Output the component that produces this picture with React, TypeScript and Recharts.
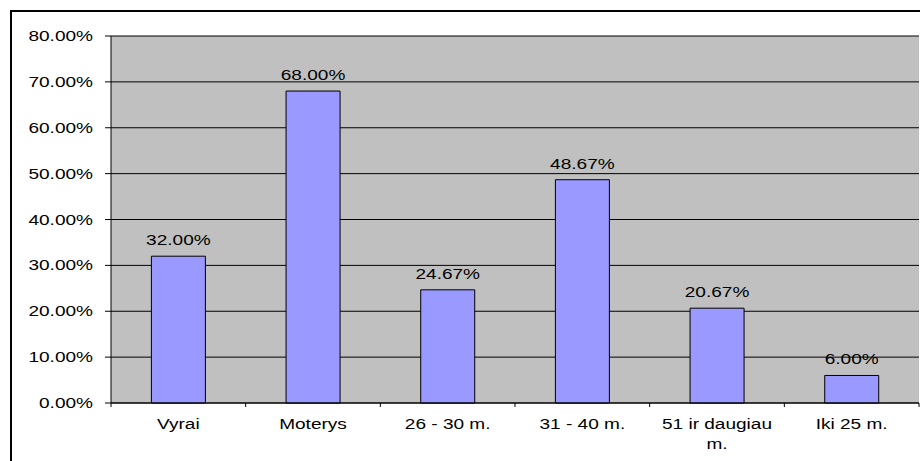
import React from "react";
import { BarChart, Bar, XAxis, YAxis, CartesianGrid, LabelList } from "recharts";

const categories = ["Vyrai", "Moterys", "26 - 30 m.", "31 - 40 m.", "51 ir daugiau\nm.", "Iki 25 m."];
const values = [32.0, 68.0, 24.67, 48.67, 20.67, 6.0];
const yTicks = [0, 10, 20, 30, 40, 50, 60, 70, 80];

const data = categories.map((c, i) => ({ name: c, value: values[i] }));

const W = 920;
const H = 461;
const MARGIN = { top: 36, right: 1, left: 11, bottom: 18 };
const YAXIS_W = 100;
const PLOT_W = W - MARGIN.left - MARGIN.right - YAXIS_W;
const STEP = PLOT_W / categories.length;
const FONT = "'Liberation Sans', Arial, sans-serif";
const SX = 1.36;
const FS = 14;

const fmt = (v: number) => `${v.toFixed(2)}%`;

const YTick = (props: any) => {
  const { x, y, payload } = props;
  return (
    <text
      transform={`translate(${x},${y}) scale(${SX},1)`}
      textAnchor="end"
      dy="0.36em"
      fontSize={FS}
      fontFamily={FONT}
      fill="#000"
    >
      {fmt(payload.value)}
    </text>
  );
};

const XTick = (props: any) => {
  const { x, y, payload, index } = props;
  const lines = String(payload.value).split("\n");
  const left = x - STEP / 2;
  const right = x + STEP / 2;
  return (
    <g>
      <line x1={left} y1={y} x2={left} y2={y + 4} stroke="#000" />
      {index === categories.length - 1 && (
        <line x1={right} y1={y} x2={right} y2={y + 4} stroke="#000" />
      )}
      {lines.map((l, i) => (
        <text
          key={i}
          transform={`translate(${x},${y + 26 + i * 20}) scale(${SX},1)`}
          textAnchor="middle"
          fontSize={FS}
          fontFamily={FONT}
          fill="#000"
        >
          {l}
        </text>
      ))}
    </g>
  );
};

const BarLabel = (props: any) => {
  const { x, y, width, value } = props;
  return (
    <text
      transform={`translate(${x + width / 2},${y - 11}) scale(${SX},1)`}
      textAnchor="middle"
      fontSize={FS}
      fontFamily={FONT}
      fill="#000"
    >
      {fmt(value)}
    </text>
  );
};

export default function App() {
  return (
    <div
      style={{
        position: "absolute",
        left: 0,
        top: 0,
        width: W,
        height: H,
        overflow: "hidden",
        background: "#fff",
      }}
    >
      <div
        style={{
          position: "absolute",
          left: 10,
          top: 10,
          width: 1000,
          height: 1000,
          border: "2px solid #000",
          boxSizing: "border-box",
        }}
      />
      <div style={{ position: "absolute", left: 0, top: 0 }}>
        <BarChart width={W} height={H} data={data} margin={MARGIN} barCategoryGap="30%">
          <CartesianGrid vertical={false} stroke="#000" fill="#c0c0c0" yAxisId="left" />
          <XAxis
            dataKey="name"
            height={40}
            tickSize={0}
            tickMargin={0}
            tickLine={false}
            axisLine={{ stroke: "#000" }}
            tick={<XTick />}
            interval={0}
            yAxisId="left"
          />
          <YAxis
            yAxisId="left"
            width={YAXIS_W}
            domain={[0, 80]}
            ticks={yTicks}
            tickSize={6}
            tickMargin={12}
            tickLine={{ stroke: "#000" }}
            axisLine={{ stroke: "#000" }}
            tick={<YTick />}
          />
          <YAxis
            yAxisId="right"
            orientation="right"
            width={0}
            domain={[0, 80]}
            tick={false}
            tickLine={false}
            axisLine={{ stroke: "#808080" }}
          />
          <Bar
            yAxisId="left"
            dataKey="value"
            fill="#9999ff"
            stroke="#000"
            strokeWidth={1}
            isAnimationActive={false}
          >
            <LabelList dataKey="value" content={<BarLabel />} />
          </Bar>
        </BarChart>
      </div>
    </div>
  );
}
